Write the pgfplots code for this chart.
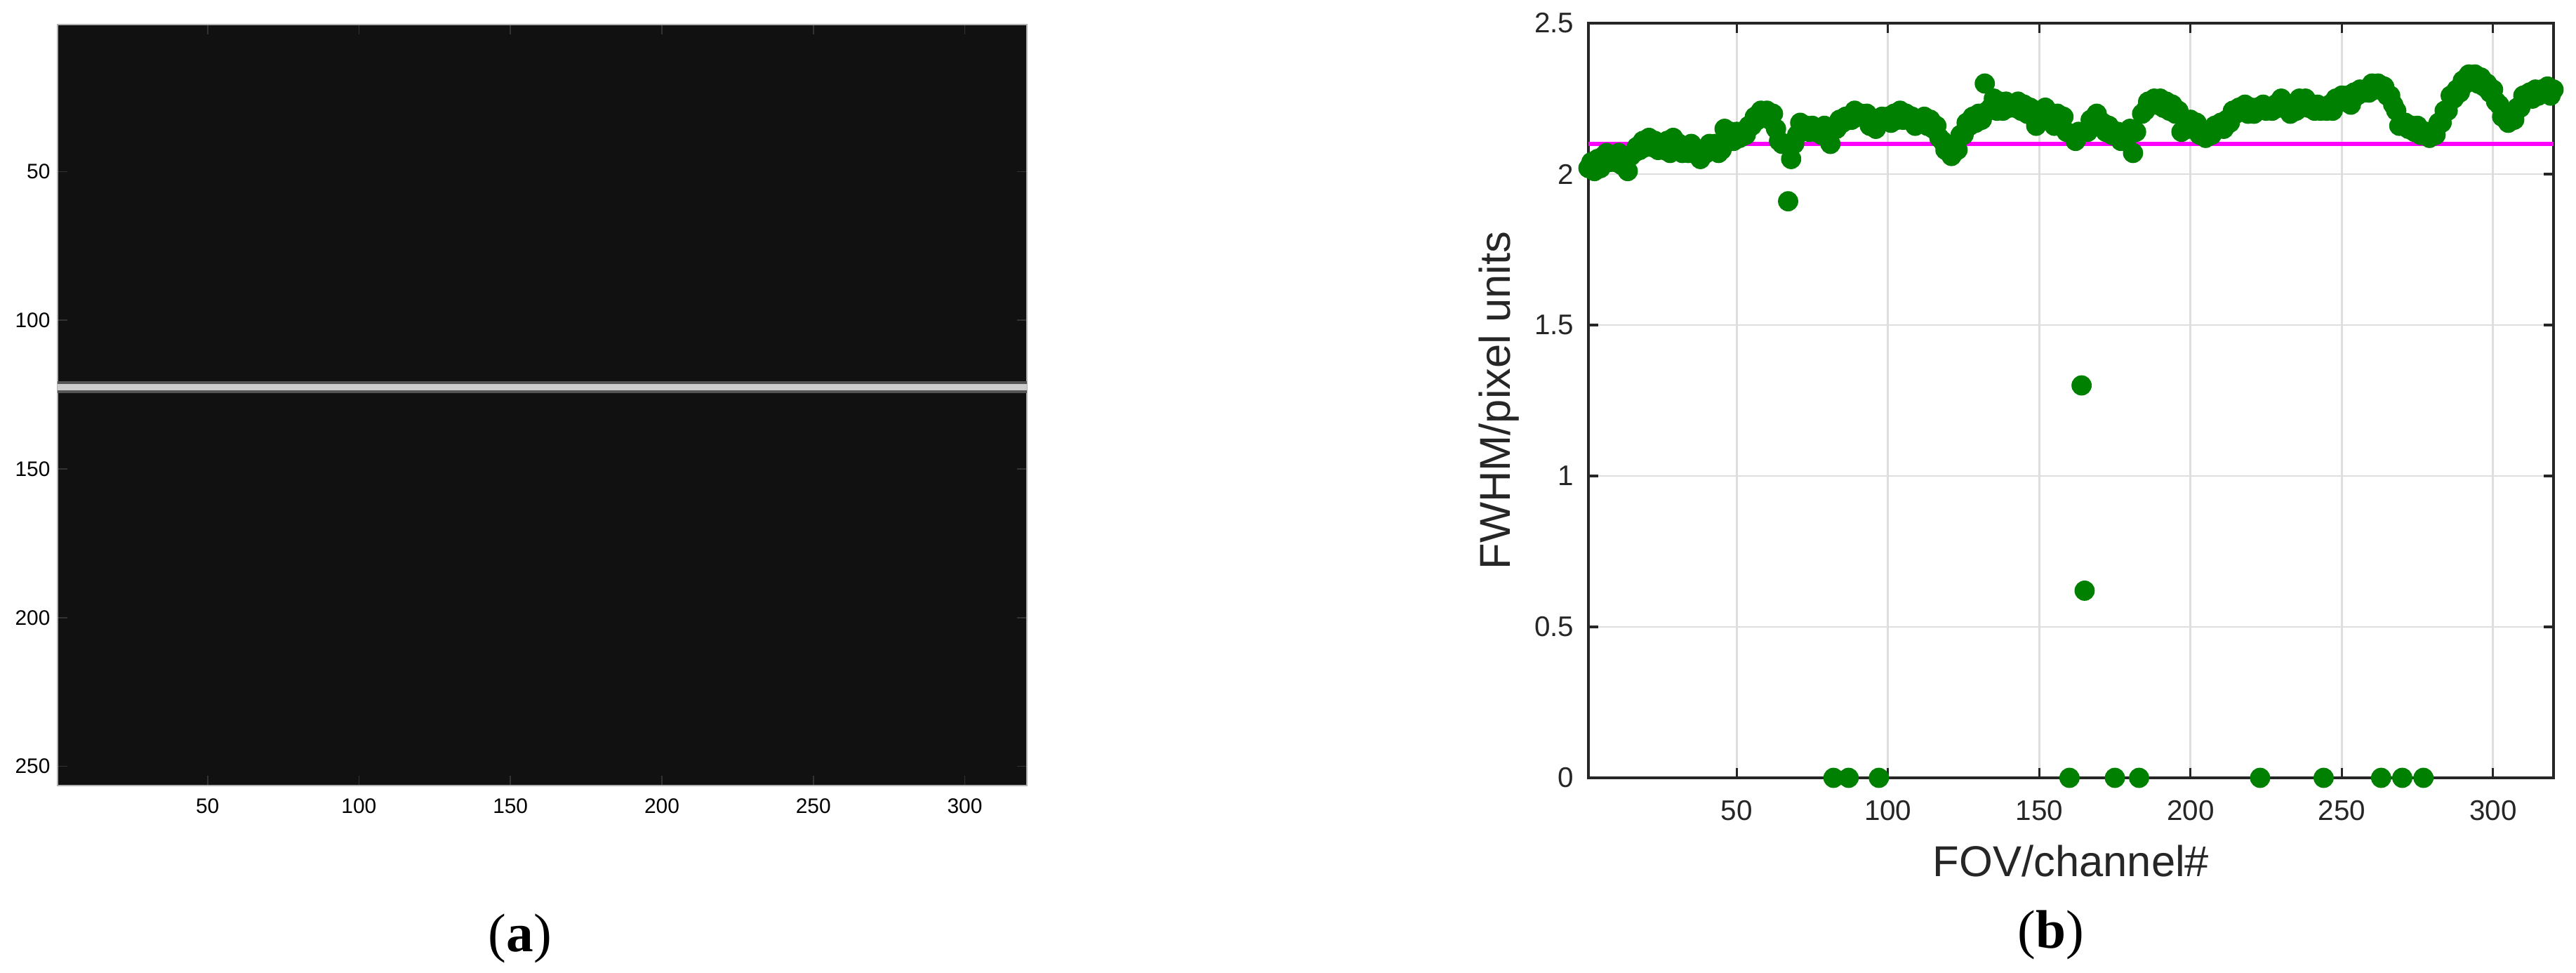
\documentclass[border=0pt]{standalone}
\usepackage{fontspec}
\setmainfont{Liberation Sans}
\newfontfamily\capfont{Liberation Serif}
\usepackage{pgfplots}
\pgfplotsset{compat=1.18}
\definecolor{mgreen}{RGB}{0,128,0}
\definecolor{mmagenta}{RGB}{255,0,255}
\definecolor{axgray}{RGB}{38,38,38}
\definecolor{gridgray}{RGB}{222,222,222}
\definecolor{imgbg}{RGB}{17,17,17}
\definecolor{linecore}{RGB}{205,205,205}
\definecolor{linehalo}{RGB}{85,85,85}

\begin{document}
\begin{tikzpicture}
\useasboundingbox (0,0) rectangle (36.7,-13.86);

% (a) camera frame: dark image with one bright slit row
\begin{axis}[at={(0.82cm,-0.35cm)},anchor=north west,scale only axis,
  width=13.81cm,height=10.84cm,
  xmin=0.5,xmax=320.5,ymin=0.5,ymax=256.5,y dir=reverse,
  axis background/.style={fill=imgbg},
  xtick={50,100,150,200,250,300},ytick={50,100,150,200,250},
  tick align=inside,major tick length=4pt,
  tick style={gray!40!black,line width=0.5pt},
  axis line style={gray!60,line width=0.4pt},
  /pgf/number format/assume math mode=true,
  ticklabel style={font=\fontsize{8.5}{10}\selectfont},
  xticklabel style={inner sep=0pt,yshift=-5pt},
  yticklabel style={inner sep=0pt,xshift=-2.8pt}]
\addplot[linehalo,line width=4.8pt] coordinates {(0.5,122.4)(320.5,122.4)};
\addplot[linecore,line width=2.6pt] coordinates {(0.5,122.4)(320.5,122.4)};
\end{axis}

% (b) FWHM per channel
\begin{axis}[at={(22.63cm,-0.33cm)},anchor=north west,scale only axis,
  width=13.75cm,height=10.75cm,
  xmin=1,xmax=320,ymin=0,ymax=2.5,
  xtick={50,100,150,200,250,300},ytick={0,0.5,1,1.5,2,2.5},
  grid=major,grid style={gridgray,line width=0.8pt},
  axis line style={axgray,line width=0.9pt},
  tick style={axgray,line width=0.9pt},tick align=inside,major tick length=4pt,
  /pgf/number format/assume math mode=true,
  ticklabel style={font=\fontsize{11.5}{13}\selectfont,text=axgray},
  xticklabel style={inner sep=0pt,yshift=-9pt},
  yticklabel style={inner sep=0pt,xshift=-5.7pt},
  xlabel={FOV/channel\#},ylabel={FWHM/pixel units},
  label style={font=\fontsize{17.5}{20}\selectfont,text=axgray},
  xlabel style={at={(axis description cs:0.5,-0.110)},anchor=center},
  ylabel style={at={(axis description cs:-0.093,0.5)},anchor=center},
  clip mode=individual]
\addplot[mmagenta,line width=1.6pt] coordinates {(1,2.1)(320,2.1)};
\addplot[only marks,mark=*,mark size=3.9pt,mgreen,mark options={draw=mgreen,fill=mgreen}] coordinates {
(1,2.02)(2,2.04)(3,2.01)(4,2.05)(5,2.02)(6,2.06)(7,2.07)(8,2.04)(9,2.06)(10,2.04)
(11,2.07)(12,2.03)(13,2.04)(14,2.01)(15,2.06)(16,2.07)(17,2.09)(18,2.08)(19,2.11)(20,2.09)
(21,2.12)(22,2.09)(23,2.11)(24,2.08)(25,2.09)(26,2.08)(27,2.11)(28,2.07)(29,2.12)(30,2.09)
(31,2.10)(32,2.07)(33,2.09)(34,2.07)(35,2.10)(36,2.07)(37,2.08)(38,2.05)(39,2.07)(40,2.07)
(41,2.10)(42,2.09)(43,2.10)(44,2.07)(45,2.08)(46,2.15)(47,2.11)(48,2.14)(49,2.11)(50,2.14)
(51,2.12)(52,2.14)(53,2.13)(54,2.16)(55,2.16)(56,2.19)(57,2.18)(58,2.21)(59,2.20)(60,2.21)
(61,2.18)(62,2.20)(63,2.15)(64,2.11)(65,2.10)(66,2.10)(67,1.91)(68,2.05)(69,2.10)(70,2.13)
(71,2.17)(72,2.15)(73,2.16)(74,2.14)(75,2.16)(76,2.14)(77,2.15)(78,2.13)(79,2.16)(80,2.14)
(81,2.10)(82,0)(83,2.15)(84,2.18)(85,2.17)(86,2.19)(87,0)(88,2.18)(89,2.21)(90,2.19)
(91,2.20)(92,2.19)(93,2.20)(94,2.16)(95,2.17)(96,2.15)(97,0)(98,2.19)(99,2.18)(100,2.19)
(101,2.17)(102,2.20)(103,2.18)(104,2.21)(105,2.18)(106,2.20)(107,2.18)(108,2.19)(109,2.16)(110,2.18)
(111,2.17)(112,2.19)(113,2.16)(114,2.18)(115,2.15)(116,2.16)(117,2.12)(118,2.11)(119,2.08)(120,2.09)
(121,2.06)(122,2.08)(123,2.08)(124,2.13)(125,2.13)(126,2.17)(127,2.16)(128,2.19)(129,2.17)(130,2.20)
(131,2.18)(132,2.30)(133,2.21)(134,2.22)(135,2.25)(136,2.21)(137,2.24)(138,2.21)(139,2.24)(140,2.22)
(141,2.23)(142,2.22)(143,2.24)(144,2.21)(145,2.23)(146,2.20)(147,2.22)(148,2.19)(149,2.16)(150,2.20)
(151,2.20)(152,2.22)(153,2.19)(154,2.19)(155,2.16)(156,2.20)(157,2.18)(158,2.19)(159,2.14)(160,0)
(161,2.13)(162,2.11)(163,2.14)(164,1.30)(165,0.62)(166,2.14)(167,2.18)(168,2.17)(169,2.20)(170,2.17)
(171,2.17)(172,2.14)(173,2.16)(174,2.13)(175,0)(176,2.14)(177,2.11)(178,2.13)(179,2.12)(180,2.15)
(181,2.07)(182,2.14)(183,0)(184,2.20)(185,2.21)(186,2.24)(187,2.23)(188,2.25)(189,2.23)(190,2.25)
(191,2.22)(192,2.24)(193,2.21)(194,2.23)(195,2.20)(196,2.21)(197,2.14)(198,2.15)(199,2.15)(200,2.18)
(201,2.15)(202,2.17)(203,2.13)(204,2.14)(205,2.12)(206,2.13)(207,2.13)(208,2.16)(209,2.15)(210,2.17)
(211,2.15)(212,2.18)(213,2.17)(214,2.21)(215,2.20)(216,2.22)(217,2.21)(218,2.23)(219,2.20)(220,2.22)
(221,2.20)(222,2.22)(223,0)(224,2.23)(225,2.21)(226,2.22)(227,2.21)(228,2.23)(229,2.22)(230,2.25)
(231,2.22)(232,2.23)(233,2.20)(234,2.22)(235,2.21)(236,2.25)(237,2.23)(238,2.25)(239,2.22)(240,2.23)
(241,2.21)(242,2.23)(243,2.21)(244,0)(245,2.21)(246,2.23)(247,2.21)(248,2.25)(249,2.24)(250,2.26)
(251,2.24)(252,2.26)(253,2.23)(254,2.27)(255,2.26)(256,2.28)(257,2.27)(258,2.28)(259,2.27)(260,2.30)
(261,2.28)(262,2.30)(263,0)(264,2.29)(265,2.26)(266,2.26)(267,2.23)(268,2.21)(269,2.16)(270,0)
(271,2.17)(272,2.15)(273,2.16)(274,2.14)(275,2.16)(276,2.13)(277,0)(278,2.14)(279,2.12)(280,2.14)
(281,2.13)(282,2.17)(283,2.17)(284,2.21)(285,2.21)(286,2.26)(287,2.25)(288,2.28)(289,2.27)(290,2.31)
(291,2.30)(292,2.33)(293,2.31)(294,2.33)(295,2.30)(296,2.32)(297,2.29)(298,2.30)(299,2.27)(300,2.28)
(301,2.24)(302,2.23)(303,2.19)(304,2.20)(305,2.17)(306,2.19)(307,2.18)(308,2.22)(309,2.22)(310,2.26)
(311,2.25)(312,2.27)(313,2.25)(314,2.28)(315,2.26)(316,2.28)(317,2.27)(318,2.29)(319,2.26)(320,2.28)
};
\end{axis}

\node[font=\capfont\fontsize{22}{26}\selectfont] at (7.41,-13.37) {(\textbf{a})};
\node[font=\capfont\fontsize{22}{26}\selectfont] at (29.22,-13.32) {(\textbf{b})};
\end{tikzpicture}
\end{document}
